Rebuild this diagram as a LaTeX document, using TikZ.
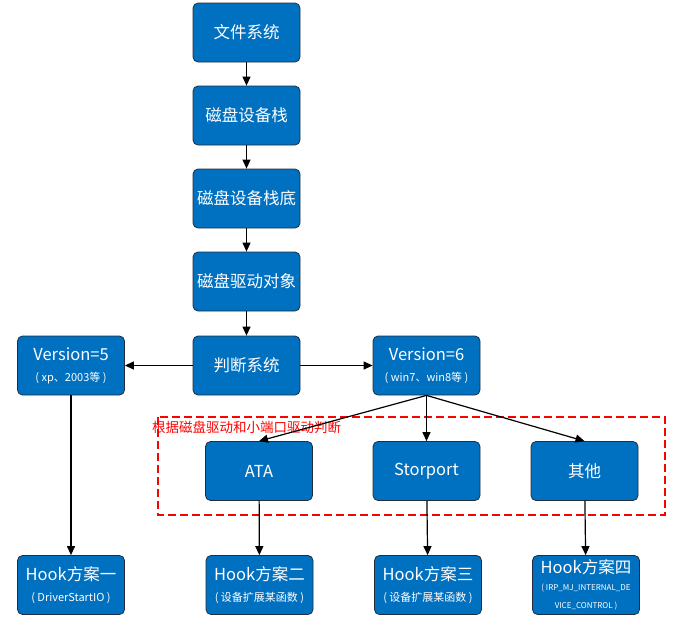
\documentclass[tikz,border=0pt]{standalone}
\usepackage{fontspec}
\setmainfont{Noto Sans CJK SC}
\usetikzlibrary{arrows.meta}
\definecolor{boxblue}{RGB}{0,112,192}
\definecolor{boxedge}{RGB}{35,45,65}
\definecolor{grpred}{RGB}{255,0,0}
\newcommand{\subtxt}[1]{{\fontsize{11}{13}\selectfont #1}}
\begin{document}
\begin{tikzpicture}[x=1pt,y=-1pt,
  blk/.style={draw=boxedge, line width=0.8pt, fill=boxblue, rounded corners=5pt,
    minimum width=107pt, minimum height=59pt, text=white,
    font=\fontsize{16.5}{21}\selectfont, align=center, inner sep=0pt},
  arr/.style={-{Triangle[length=9pt,width=8pt]}, line width=1.2pt},
  grp/.style={draw=grpred, line width=1.1pt, dash pattern=on 8pt off 4pt}]
\useasboundingbox (0,0) rectangle (684,622);

\node[blk] (fs) at (246.5,32.5) {文件系统};
\node[blk] (stack) at (246.5,115.5) {磁盘设备栈};
\node[blk] (stackbot) at (246.5,198.5) {磁盘设备栈底};
\node[blk] (drvobj) at (246.5,281.5) {磁盘驱动对象};
\node[blk] (judge) at (246.5,365.5) {判断系统};
\node[blk] (v5) at (71,365.5) {Version=5\\\subtxt{( xp、2003等 )}};
\node[blk] (v6) at (426.5,365.5) {Version=6\\\subtxt{( win7、win8等 )}};

\draw[grp] (158,417) rectangle (665,515);
\node[text=grpred, font=\fontsize{13.5}{15}\selectfont, anchor=west, inner sep=0pt] (lbl) at (152,427) {根据磁盘驱动和小端口驱动判断};

\node[blk] (ata) at (259,471) {ATA};
\node[blk] (stor) at (426.5,471) {Storport};
\node[blk] (other) at (584.5,471) {其他};

\node[blk] (h1) at (71,585) {Hook方案一\\\subtxt{( DriverStartIO )}};
\node[blk] (h2) at (259.5,585) {Hook方案二\\\subtxt{( 设备扩展某函数 )}};
\node[blk] (h3) at (428,585) {Hook方案三\\\subtxt{( 设备扩展某函数 )}};
\node[blk, font=\fontsize{16.5}{18}\selectfont] (h4) at (586,585) {Hook方案四\\[-1pt]{\fontsize{8}{19}\selectfont ( IRP\_MJ\_INTERNAL\_DE}\\{\fontsize{8}{19}\selectfont VICE\_CONTROL )}};

\draw[arr] (fs) -- (stack);
\draw[arr] (stack) -- (stackbot);
\draw[arr] (stackbot) -- (drvobj);
\draw[arr] (drvobj) -- (judge);
\draw[arr] (judge) -- (v5);
\draw[arr] (judge) -- (v6);
\draw[arr] (v6.south) -- (ata.north);
\draw[arr] (v6.south) -- (stor.north);
\draw[arr] (v6.south) -- (other.north);
\draw[arr] (v5) -- (h1);
\draw[arr] (ata) -- (h2);
\draw[arr] (stor) -- (h3);
\draw[arr] (other) -- (h4);
\end{tikzpicture}
\end{document}
